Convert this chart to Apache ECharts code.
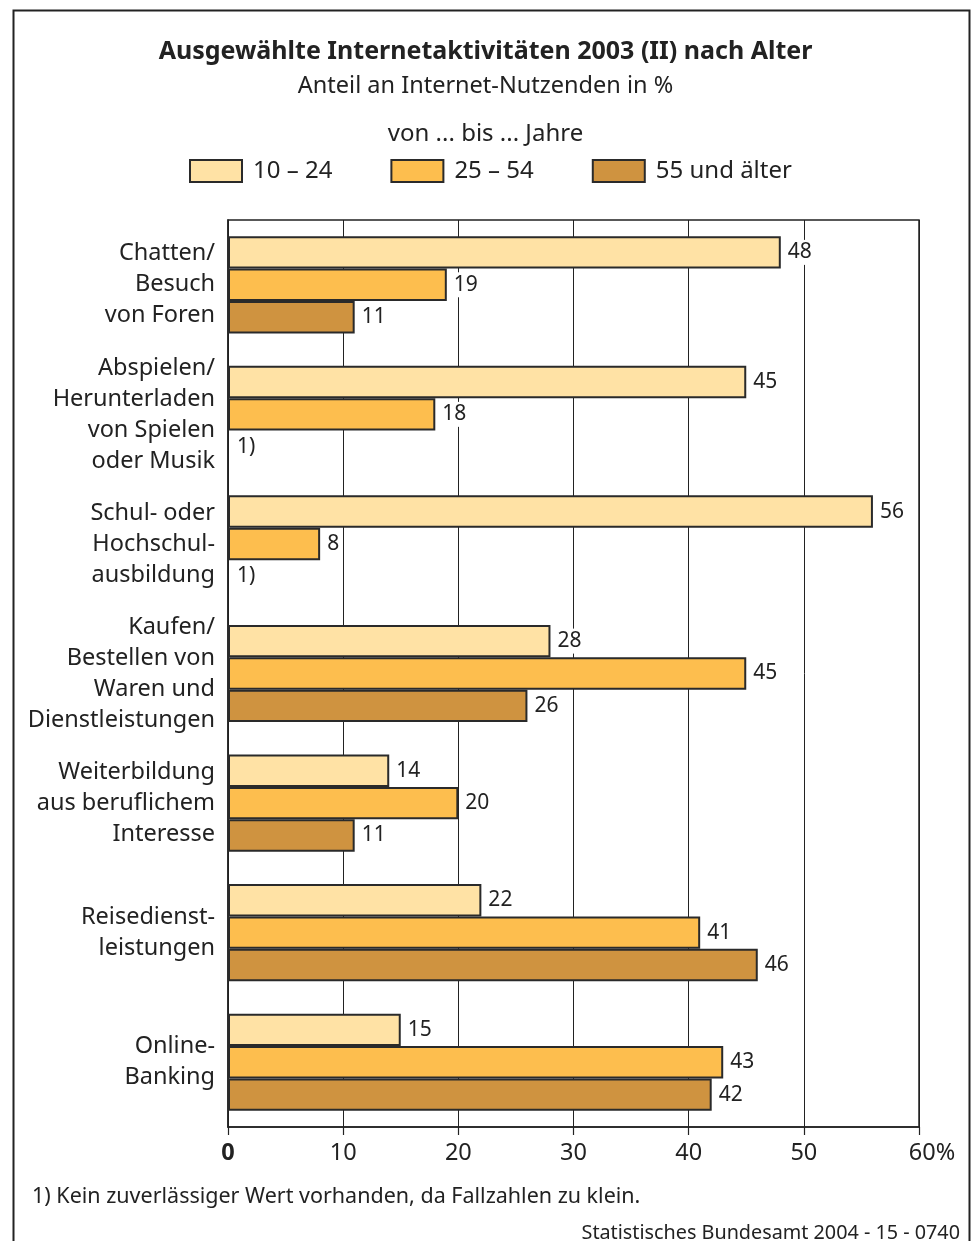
<!DOCTYPE html>
<html>
<head>
<meta charset="utf-8">
<script src="https://cdn.jsdelivr.net/npm/echarts@6/dist/echarts.min.js"></script>
<style>
  html, body { margin: 0; padding: 0; background: #fff; }
  #chart { width: 971px; height: 1241px; }
</style>
</head>
<body>
<div id="chart"></div>
<script>
// Kategorien (von oben nach unten)
const categories = [
  'Chatten/\nBesuch\nvon Foren',
  'Abspielen/\nHerunterladen\nvon Spielen\noder Musik',
  'Schul- oder\nHochschul-\nausbildung',
  'Kaufen/\nBestellen von\nWaren und\nDienstleistungen',
  'Weiterbildung\naus beruflichem\nInteresse',
  'Reisedienst-\nleistungen',
  'Online-\nBanking'
];
const seriesNames = ['10 – 24', '25 – 54', '55 und älter'];
// null = kein zuverlässiger Wert (Fußnote 1)
const young = [48, 45, 56, 28, 14, 22, 15];
const middle = [19, 18, 8, 45, 20, 41, 43];
const old = [11, null, null, 26, 11, 46, 42];
const xTicks = [0, 10, 20, 30, 40, 50, 60];

const colors = ['#FFE2A5', '#FDBE4E', '#CF9340'];
const font = "'Noto Sans', sans-serif";

const chart = echarts.init(document.getElementById('chart'));

function makeSeries(name, values, color) {
  return {
    name: name,
    type: 'bar',
    barGap: '0%',
    barCategoryGap: '25%',
    itemStyle: { color: color, borderColor: '#2a2a2a', borderWidth: 2 },
    label: {
      show: true, position: 'right', distance: 4,
      color: '#222', fontSize: 21, fontFamily: font,
      backgroundColor: '#fff', padding: [2, 3, 2, 3]
    },
    data: values.map(v => v === null
      ? { value: 0, itemStyle: { color: 'transparent', borderWidth: 0 },
          label: { formatter: '1)', distance: 6 } }
      : v)
  };
}

const option = {
  backgroundColor: '#fff',
  textStyle: { fontFamily: font },
  title: [
    { text: 'Ausgewählte Internetaktivitäten 2003 (II) nach Alter', left: 'center', top: 34,
      textStyle: { fontSize: 25, fontWeight: 'bold', color: '#222', fontFamily: font } },
    { text: 'Anteil an Internet-Nutzenden in %', left: 'center', top: 69,
      textStyle: { fontSize: 23.5, fontWeight: 'normal', color: '#222', fontFamily: font } },
    { text: 'von ... bis ... Jahre', left: 'center', top: 117,
      textStyle: { fontSize: 24, fontWeight: 'normal', color: '#222', fontFamily: font } },
    { text: '1) Kein zuverlässiger Wert vorhanden, da Fallzahlen zu klein.', left: 27, top: 1181,
      textStyle: { fontSize: 21.5, fontWeight: 'normal', color: '#222', fontFamily: font } },
    { text: 'Statistisches Bundesamt 2004 - 15 - 0740', right: 6, top: 1218,
      textStyle: { fontSize: 19.8, fontWeight: 'normal', color: '#222', fontFamily: font } }
  ],
  legend: {
    left: 189, top: 159, padding: 0,
    itemWidth: 52, itemHeight: 22, itemGap: 58,
    icon: 'rect',
    itemStyle: { borderColor: '#2a2a2a', borderWidth: 2 },
    textStyle: { fontSize: 24, color: '#222', fontFamily: font, padding: [0, 0, 0, 6] },
    data: seriesNames
  },
  grid: {
    left: 228, right: 52, top: 220, bottom: 114,
    show: true, borderColor: '#222', borderWidth: 1.5
  },
  xAxis: {
    type: 'value', min: 0, max: 60, interval: 10,
    axisLine: { show: true, lineStyle: { color: '#222', width: 1.5 } },
    axisTick: { show: true, length: 8, lineStyle: { color: '#222', width: 1.2 } },
    splitLine: { show: true, lineStyle: { color: '#222', width: 1 } },
    axisLabel: {
      margin: 14, fontSize: 23.5, color: '#222', fontFamily: font,
      formatter: function (v) {
        if (v === xTicks[0]) return '{z|0}';
        if (v === xTicks[xTicks.length - 1]) return '{p|' + v + '%}';
        return String(v);
      },
      rich: {
        z: { fontSize: 23.5, fontWeight: 'bold', color: '#222', fontFamily: font },
        p: { fontSize: 23.5, color: '#222', fontFamily: font, padding: [0, 0, 0, 26] }
      }
    }
  },
  yAxis: {
    type: 'category', inverse: true, data: categories,
    axisLine: { show: true, lineStyle: { color: '#222', width: 1.5 } },
    axisTick: { show: false },
    axisLabel: {
      margin: 13, fontSize: 23.5, lineHeight: 31, color: '#222', fontFamily: font, align: 'right'
    }
  },
  series: [
    makeSeries(seriesNames[0], young, colors[0]),
    makeSeries(seriesNames[1], middle, colors[1]),
    makeSeries(seriesNames[2], old, colors[2])
  ],
  graphic: [
    { type: 'rect', left: 11, top: 8, z: -1, silent: true,
      shape: { width: 956, height: 1260 },
      style: { fill: 'none', stroke: '#222', lineWidth: 2 } }
  ]
};

chart.setOption(option);
window.addEventListener('resize', () => chart.resize());
</script>
</body>
</html>
